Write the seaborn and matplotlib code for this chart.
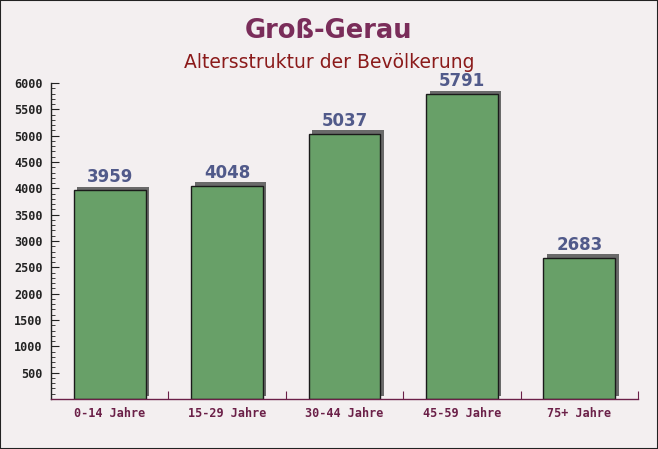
import matplotlib
matplotlib.use("Agg")
import matplotlib.pyplot as plt
import matplotlib.transforms as mtransforms
from matplotlib.patches import Rectangle
from matplotlib.ticker import MultipleLocator, FixedLocator
import seaborn as sns
import pandas as pd

categories = ["0-14 Jahre", "15-29 Jahre", "30-44 Jahre", "45-59 Jahre", "75+ Jahre"]
values = [3959, 4048, 5037, 5791, 2683]
title = "Groß-Gerau"
subtitle = "Altersstruktur der Bevölkerung"

sns.set_theme(style="white")
plt.rcParams['font.family'] = ['DejaVu Sans']

bg = "#f3eff0"
fig = plt.figure(figsize=(6.58, 4.49), dpi=100, facecolor=bg)
ax = fig.add_axes([51/658, 1-399/449, 587/658, 316/449])
ax.set_facecolor("none")

df = pd.DataFrame({"cat": categories, "val": values})
sns.barplot(data=df, x="cat", y="val", color="#68a068", saturation=1,
            width=0.61, edgecolor="#1a1a1a", linewidth=1.0, ax=ax, zorder=3)

ax.set_xlim(-0.5, 4.5)
ax.set_ylim(0, 6000)

# 3D shadow behind each bar
off = mtransforms.ScaledTranslation(3.5/100, 3.5/100, fig.dpi_scale_trans)
for p in list(ax.patches):
    x0, y0 = p.get_x(), p.get_y()
    w, h = p.get_width(), p.get_height()
    shp = Rectangle((x0, y0), w, h, facecolor="#6a6a6a", edgecolor="none",
                    transform=ax.transData + off, zorder=2, clip_on=False)
    ax.add_patch(shp)
    ax.text(x0 + w/2, h, f"{int(round(h))}", ha="center", va="bottom",
            fontsize=12, fontweight="bold", color="#515a8a",
            transform=ax.transData + mtransforms.ScaledTranslation(0, 4/100, fig.dpi_scale_trans),
            zorder=5)

for s in ["top", "right"]:
    ax.spines[s].set_visible(False)
ax.spines["left"].set_color("#222222")
ax.spines["bottom"].set_color("#6b2048")
ax.spines["left"].set_linewidth(1.0)
ax.spines["bottom"].set_linewidth(1.0)
ax.spines["left"].set_zorder(6)
ax.spines["bottom"].set_zorder(6)

ax.yaxis.set_major_locator(FixedLocator(list(range(500, 6001, 500))))
ax.yaxis.set_minor_locator(MultipleLocator(100))
ax.tick_params(axis="y", which="major", direction="in", length=6, width=0.8,
               color="#222222", left=True, labelsize=8.5, labelcolor="#222222", pad=6)
ax.tick_params(axis="y", which="minor", direction="in", length=3, width=0.6,
               color="#222222", left=True)
for lab in ax.get_yticklabels():
    lab.set_family("DejaVu Sans Mono")
    lab.set_fontweight("bold")

ax.set_xticks(range(len(categories)))
ax.set_xticklabels(categories)
ax.xaxis.set_minor_locator(FixedLocator([i + 0.5 for i in range(len(categories))]))
ax.tick_params(axis="x", which="major", length=0, labelsize=8.5,
               labelcolor="#6b2048", pad=6)
ax.tick_params(axis="x", which="minor", direction="in", length=6, width=0.8,
               color="#6b2048", bottom=True)
for lab in ax.get_xticklabels():
    lab.set_family("DejaVu Sans Mono")
    lab.set_fontweight("semibold")

ax.set_xlabel("")
ax.set_ylabel("")

fig.text(0.5, 1-31/449, title, ha="center", va="center", fontsize=18.5,
         fontweight="bold", color="#7a2d5a")
fig.text(0.5, 1-62/449, subtitle, ha="center", va="center", fontsize=13.5,
         color="#8b1a1a")

fig.patches.append(Rectangle((0, 0), 1, 1, transform=fig.transFigure,
                             fill=False, edgecolor="#222222", linewidth=1.5))

fig.savefig("out.png", dpi=100, facecolor=bg)
